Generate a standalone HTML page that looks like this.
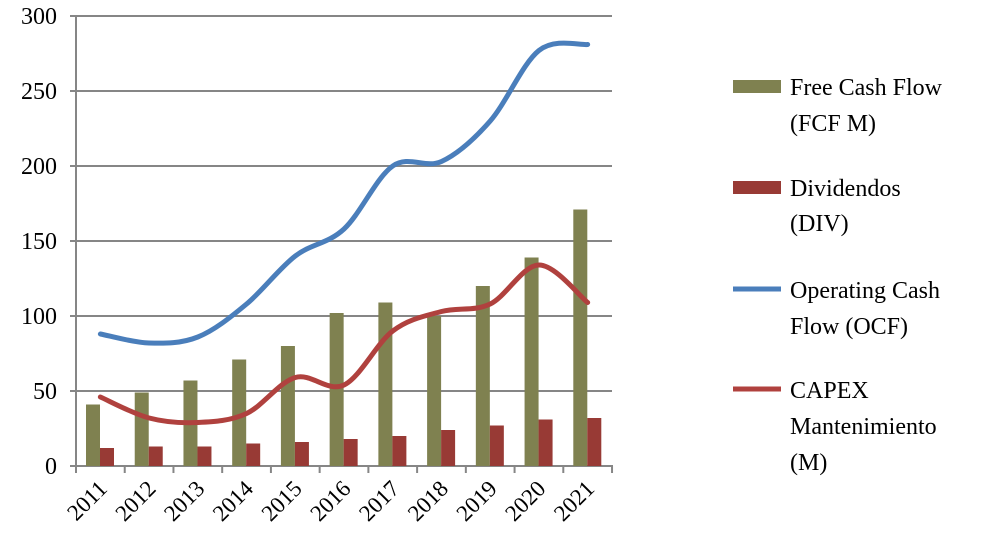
<!DOCTYPE html><html><head><style>body{margin:0;background:#fff}svg{display:block;font-family:"Liberation Serif",serif}</style></head><body>
<svg id="s" width="983" height="547" xmlns="http://www.w3.org/2000/svg"></svg>
<script>
const s=document.getElementById('s');let h='';
const X0=76,W=48.73,Y0=466,K=1.5;
const y=v=>Y0-v*K;
for(let v=50;v<=300;v+=50)h+=`<line x1="70" x2="612" y1="${y(v)}" y2="${y(v)}" stroke="#868686" stroke-width="2"/>`;
for(let v=0;v<=300;v+=50)h+=`<text x="57" y="${y(v)+8}" font-size="24" text-anchor="end" fill="#000">${v}</text>`;
h+=`<line x1="76" x2="76" y1="15" y2="473" stroke="#868686" stroke-width="2"/><line x1="70" x2="613" y1="466" y2="466" stroke="#868686" stroke-width="2"/>`;
const F=[41,49,57,71,80,102,109,100,120,139,171],D=[12,13,13,15,16,18,20,24,27,31,32],
O=[88,82,86,108,140,158,200,203,230,277,281],C=[46,32,29,35,59,54,90,103,108,134,109];
for(let i=0;i<11;i++){const x=X0+W*i;
h+=`<line x1="${x+W}" x2="${x+W}" y1="466" y2="473" stroke="#868686" stroke-width="2"/>`;
h+=`<rect x="${x+10}" y="${y(F[i])}" width="14" height="${F[i]*K}" fill="#7f8150"/>`;
h+=`<rect x="${x+24}" y="${y(D[i])}" width="14" height="${D[i]*K}" fill="#983a35"/>`;
const cx=x+W/2+8;h+=`<text transform="translate(${cx},490) rotate(-45)" font-size="23" text-anchor="end">${2011+i}</text>`;}
function path(A){const p=A.map((v,i)=>[X0+W*(i+0.5),y(v)]);let d=`M${p[0]}`;
for(let i=0;i<p.length-1;i++){const a=p[i-1]||p[i],b=p[i],c=p[i+1],e=p[i+2]||c;
d+=` C${b[0]+(c[0]-a[0])/6},${b[1]+(c[1]-a[1])/6} ${c[0]-(e[0]-b[0])/6},${c[1]-(e[1]-b[1])/6} ${c[0]},${c[1]}`;}return d;}
h+=`<path d="${path(C)}" fill="none" stroke="#b0413e" stroke-width="5" stroke-linecap="round"/>`;
h+=`<path d="${path(O)}" fill="none" stroke="#4a7ebb" stroke-width="5" stroke-linecap="round"/>`;
h+=`<rect x="733" y="80" width="48" height="13" fill="#7f8150"/><rect x="733" y="181" width="48" height="13" fill="#983a35"/>
<line x1="733" x2="781" y1="289" y2="289" stroke="#4a7ebb" stroke-width="5"/><line x1="733" x2="781" y1="389" y2="389" stroke="#b0413e" stroke-width="5"/>`;
const L=[[95,'Free Cash Flow'],[131,'(FCF M)'],[196,'Dividendos'],[231,'(DIV)'],[298,'Operating Cash'],[334,'Flow (OCF)'],[398,'CAPEX'],[434,'Mantenimiento'],[470,'(M)']];
for(const[t,s2]of L)h+=`<text x="790" y="${t}" font-size="24">${s2}</text>`;
s.innerHTML=h;
</script></body></html>
